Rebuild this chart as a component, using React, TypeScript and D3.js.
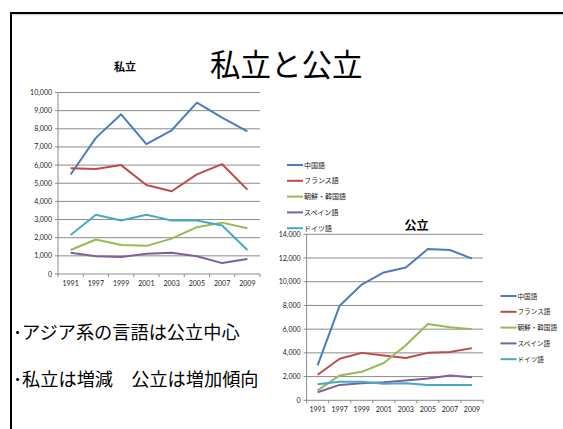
import React from "react";
import * as d3 from "d3";

const years = ["1991", "1997", "1999", "2001", "2003", "2005", "2007", "2009"];
const seriesNames = ["中国語", "フランス語", "朝鮮・韓国語", "スペイン語", "ドイツ語"];
const colors = ["#4A7EBB", "#BE4B48", "#98B954", "#7D60A0", "#46AAC5"];

const privChinese = [5480, 7500, 8800, 7150, 7920, 9440, 8620, 7860];
const privFrench = [5820, 5780, 6000, 4900, 4560, 5490, 6050, 4650];
const privKorean = [1320, 1900, 1600, 1550, 1950, 2580, 2830, 2520];
const privSpanish = [1170, 980, 940, 1110, 1170, 980, 600, 830];
const privGerman = [2150, 3260, 2950, 3260, 2950, 2950, 2670, 1320];

const pubChinese = [2950, 7980, 9760, 10780, 11200, 12760, 12680, 11950];
const pubFrench = [2150, 3500, 4000, 3770, 3570, 4000, 4080, 4400];
const pubKorean = [840, 2100, 2400, 3150, 4650, 6440, 6160, 6000];
const pubSpanish = [680, 1300, 1430, 1520, 1660, 1830, 2100, 1940];
const pubGerman = [1360, 1560, 1560, 1400, 1430, 1290, 1290, 1290];

const privTicks = [0, 1000, 2000, 3000, 4000, 5000, 6000, 7000, 8000, 9000, 10000];
const pubTicks = [0, 2000, 4000, 6000, 8000, 10000, 12000, 14000];

const privSeries = [privChinese, privFrench, privKorean, privSpanish, privGerman];
const pubSeries = [pubChinese, pubFrench, pubKorean, pubSpanish, pubGerman];

const fmt = d3.format(",");
const numFont = "Lato, 'Liberation Sans', sans-serif";
const jpFont = "'Noto Sans CJK JP', sans-serif";

type ChartProps = {
  left: number; right: number; top: number; bottom: number;
  maxV: number; ticks: number[]; data: number[][];
  title: string; titleX: number; titleY: number; titleSize: number;
  labelSize: number;
};

function LineChart(p: ChartProps) {
  const x = d3.scalePoint<string>().domain(years).range([p.left, p.right]).padding(0.5);
  const y = d3.scaleLinear().domain([0, p.maxV]).range([p.bottom, p.top]);
  const step = x.step();
  const line = d3.line<number>().x((_, i) => x(years[i]) as number).y((d) => y(d));
  return (
    <g>
      <text x={p.titleX} y={p.titleY} textAnchor="middle" fontFamily={jpFont} fontWeight="bold" fontSize={p.titleSize} fill="#000">{p.title}</text>
      {p.ticks.map((t) => (
        <g key={t}>
          <line x1={p.left - 3} x2={p.right} y1={y(t)} y2={y(t)} stroke="#8c8c8c" strokeWidth={1} />
          <text x={p.left - 6} y={y(t) + 2.5} textAnchor="end" fontFamily={numFont} fontSize={p.labelSize} fill="#222">{fmt(t)}</text>
        </g>
      ))}
      <line x1={p.left} x2={p.left} y1={p.top} y2={p.bottom} stroke="#8c8c8c" strokeWidth={1} />
      {d3.range(years.length + 1).map((i) => (
        <line key={i} x1={p.left + i * step} x2={p.left + i * step} y1={p.bottom} y2={p.bottom + 3} stroke="#8c8c8c" strokeWidth={1} />
      ))}
      {years.map((yr) => (
        <text key={yr} x={x(yr) as number} y={p.bottom + 12} textAnchor="middle" fontFamily={numFont} fontSize={p.labelSize} fill="#222">{yr}</text>
      ))}
      {p.data.map((s, i) => (
        <path key={i} d={line(s) || ""} fill="none" stroke={colors[i]} strokeWidth={2} strokeLinejoin="round" />
      ))}
    </g>
  );
}

function Legend({ x, y, gap, size }: { x: number; y: number; gap: number; size: number }) {
  return (
    <g>
      {seriesNames.map((n, i) => (
        <g key={n}>
          <line x1={x} x2={x + 16} y1={y + i * gap} y2={y + i * gap} stroke={colors[i]} strokeWidth={2} />
          <text x={x + 17} y={y + i * gap + size * 0.38} fontFamily={jpFont} fontSize={size} fill="#222">{n}</text>
        </g>
      ))}
    </g>
  );
}

export default function App() {
  return (
    <svg width={563} height={429} style={{ position: "absolute", left: 0, top: 0, background: "#fff" }}>
      <rect x={0} y={0} width={563} height={429} fill="#fff" />
      <line x1={12} x2={563} y1={14.7} y2={14.7} stroke="#c8c8c8" strokeWidth={1} />
      <rect x={10} y={12} width={553} height={2} fill="#000" />
      <rect x={10} y={12} width={2} height={417} fill="#000" />
      <text x={210} y={76} fontFamily={jpFont} fontSize={30.5} fill="#000">私立と公立</text>

      <LineChart left={58} right={260} top={92.5} bottom={274} maxV={10000} ticks={privTicks} data={privSeries}
        title="私立" titleX={125} titleY={71} titleSize={11} labelSize={7} />
      <Legend x={287} y={165} gap={15.8} size={7} />

      <LineChart left={306.6} right={483} top={234.3} bottom={400.3} maxV={14000} ticks={pubTicks} data={pubSeries}
        title="公立" titleX={416.5} titleY={229.5} titleSize={12} labelSize={7} />
      <Legend x={500.5} y={296} gap={15.8} size={6.6} />

      <text x={13} y={339} fontFamily={jpFont} fontSize={18.2} fill="#000">･アジア系の言語は公立中心</text>
      <text x={13} y={386} fontFamily={jpFont} fontSize={18.2} fill="#000">･私立は増減　公立は増加傾向</text>
    </svg>
  );
}
